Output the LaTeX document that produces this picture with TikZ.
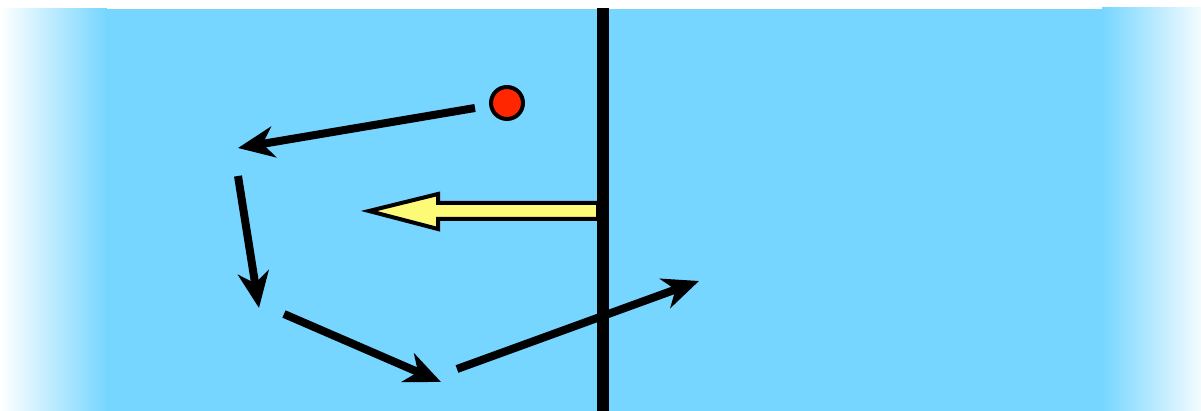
\documentclass[tikz,border=0pt]{standalone}
\usepackage{tikz}
\usetikzlibrary{arrows.meta, positioning}
\definecolor{waterblue}{HTML}{76D6FF}
\definecolor{pushyellow}{HTML}{FDFA78}
\definecolor{ballred}{HTML}{FF2600}

\begin{document}
\begin{tikzpicture}[x=0.02cm, y=-0.02cm]
    % Define styles
    \tikzstyle{ball} = [circle, draw, line width=0.08cm, fill=ballred, minimum size=0.64cm, inner sep=0pt]
    \tikzstyle{walk} = [-{Stealth[length=0.72cm, width=0.62cm, inset=0.22cm]}, line width=0.16cm]
    \tikzstyle{push} = [draw, line width=0.08cm, line join=miter, fill=pushyellow]
    \tikzstyle{wall} = [line width=0.24cm]

    \useasboundingbox (0,0) rectangle (1201,411);

    % Background
    \fill[waterblue] (107,9) rectangle (1102,411);
    \shade[left color=white, right color=waterblue] (0,9) rectangle (107,411);
    \shade[left color=waterblue, right color=white!92!waterblue] (1102,8) rectangle (1201,411);

    % Push arrow
    \path[push] (369,211) -- (438,194) -- (438,203) -- (598,203)
        -- (598,219) -- (438,219) -- (438,229) -- cycle;

    % Wall
    \coordinate (walltop) at (603,8);
    \coordinate (wallbot) at (603,411);
    \draw[wall] (walltop) -- (wallbot);

    % Ball and path points
    \node[ball] (ball) at (507,103) {};
    \coordinate (p1) at (475,108);
    \coordinate (p2) at (238,148);
    \coordinate (p3) at (238,176);
    \coordinate (p4) at (259,308);
    \coordinate (p5) at (284,314);
    \coordinate (p6) at (441,382);
    \coordinate (p7) at (457,369);
    \coordinate (p8) at (699,281);

    % Random walk
    \draw[walk] (p1) -- (p2);
    \draw[walk] (p3) -- (p4);
    \draw[walk] (p5) -- (p6);
    \draw[walk] (p7) -- (p8);
\end{tikzpicture}
\end{document}
